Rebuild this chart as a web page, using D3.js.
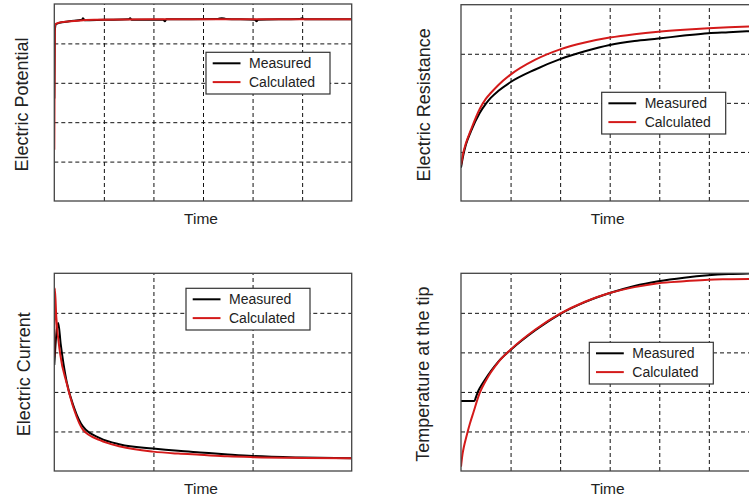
<!DOCTYPE html>
<html>
<head>
<meta charset="utf-8">
<script src="https://cdn.jsdelivr.net/npm/d3@7"></script>
<style>
  html, body { margin: 0; padding: 0; background: #fff; overflow: hidden; }
  svg { display: block; }
  text { font-family: Arial, "Liberation Sans", sans-serif; fill: #222; }
</style>
</head>
<body>
<svg id="chart" width="749" height="499"></svg>
<script>
// ---------- DATA ----------
const seriesNames = ["Measured", "Calculated"];
const xLabel = "Time";
const yLabels = ["Electric Potential", "Electric Resistance", "Electric Current", "Temperature at the tip"];

// Panel 1: Electric Potential  [time, value]
const potentialMeasured = [[0,2.6],[1,4.3],[3,4.48],[10,4.52],[30,4.56],[56,4.6],[58,4.64],[61,4.59],[100,4.6],[150,4.61],[153,4.64],[156,4.6],[220,4.6],[223,4.56],[226,4.61],[330,4.62],[338,4.64],[346,4.62],[405,4.6],[408,4.56],[411,4.6],[495,4.62],[500,4.64],[505,4.61],[600,4.61]];
const potentialCalculated = [[0,1.3],[1,4.45],[4,4.5],[15,4.54],[40,4.57],[80,4.6],[200,4.61],[600,4.61]];

// Panel 2: Electric Resistance
const resistanceMeasured = [[0,0.68],[5,0.95],[10,1.15],[20,1.42],[38,1.8],[50,1.98],[60,2.1],[75,2.24],[98,2.41],[150,2.68],[200,2.89],[250,3.05],[300,3.18],[350,3.26],[398,3.31],[450,3.37],[499,3.42],[540,3.44],[600,3.47]];
const resistanceCalculated = [[0,0.73],[5,1.0],[10,1.18],[20,1.45],[38,1.88],[50,2.08],[60,2.2],[75,2.36],[98,2.56],[150,2.88],[200,3.09],[250,3.23],[300,3.33],[350,3.4],[398,3.45],[450,3.49],[499,3.52],[540,3.54],[600,3.56]];

// Panel 3: Electric Current
const currentMeasured = [[0,2.68],[4,3.45],[8,3.74],[13,3.2],[25,2.25],[40,1.6],[58,1.12],[92,0.83],[133,0.67],[199,0.57],[250,0.51],[294,0.47],[350,0.42],[400,0.38],[500,0.34],[600,0.32]];
const currentCalculated = [[0,2.9],[1,4.62],[4,3.9],[12,2.95],[25,2.22],[40,1.55],[58,1.04],[92,0.78],[133,0.62],[199,0.49],[250,0.44],[294,0.41],[350,0.37],[400,0.35],[500,0.33],[600,0.32]];

// Panel 4: Temperature at the tip
const temperatureMeasured = [[0,1.77],[27,1.77],[30,1.86],[34,2.0],[38,2.1],[50,2.34],[60,2.52],[75,2.76],[100,3.06],[150,3.56],[200,3.97],[250,4.27],[300,4.5],[350,4.68],[398,4.8],[450,4.89],[499,4.95],[540,4.98],[600,5.0]];
const temperatureCalculated = [[0,0.11],[3,0.42],[6,0.62],[11.5,0.9],[18,1.2],[25,1.48],[38,1.98],[50,2.28],[60,2.49],[75,2.75],[100,3.07],[150,3.58],[200,3.98],[250,4.28],[300,4.5],[350,4.65],[398,4.75],[450,4.8],[499,4.84],[540,4.85],[600,4.86]];

// Grid tick values
const xTicksFine = [0,100,200,300,400,500,600];
const xTicksCoarse = [0,200,400,600];
const yTicks5 = [0,1,2,3,4,5];
const yTicks4 = [0,1,2,3,4];

// ---------- LAYOUT ----------
const panels = [
  { label: yLabels[0], box: {x:54.3, y:4,     w:297.4, h:197},   yMax:5, xTicks:xTicksFine,   yTicks:yTicks5, meas:potentialMeasured,  calc:potentialCalculated,  legend:{x:206, y:52.3},  labelX:28,  },
  { label: yLabels[1], box: {x:461,  y:4.7,   w:297.4, h:196.3}, yMax:4, xTicks:xTicksFine,   yTicks:yTicks4, meas:resistanceMeasured, calc:resistanceCalculated, legend:{x:601.7, y:92.3}, labelX:430, },
  { label: yLabels[2], box: {x:54.3, y:273.3, w:297.4, h:197.7}, yMax:5, xTicks:xTicksCoarse, yTicks:yTicks5, meas:currentMeasured,    calc:currentCalculated,    legend:{x:186, y:288.3}, labelX:30,  },
  { label: yLabels[3], box: {x:461,  y:273.3, w:297.4, h:197.7}, yMax:5, xTicks:xTicksFine,   yTicks:yTicks5, meas:temperatureMeasured,calc:temperatureCalculated,legend:{x:589.3, y:342.3}, labelX:429, }
];

const colors = { Measured: "#000000", Calculated: "#d41a1a" };
const svg = d3.select("#chart");

panels.forEach((p, i) => {
  const b = p.box;
  const x = d3.scaleLinear().domain([0, 600]).range([b.x, b.x + b.w]);
  const y = d3.scaleLinear().domain([0, p.yMax]).range([b.y + b.h, b.y]);
  const g = svg.append("g");

  const clipId = "clip" + i;
  svg.append("clipPath").attr("id", clipId)
    .append("rect").attr("x", b.x).attr("y", b.y).attr("width", b.w).attr("height", b.h);

  g.append("rect").attr("x", b.x).attr("y", b.y).attr("width", b.w).attr("height", b.h).attr("fill", "#fff");

  const gx = g.append("g").attr("transform", `translate(0,${b.y + b.h})`)
    .call(d3.axisBottom(x).tickValues(p.xTicks.slice(1, -1)).tickSize(-b.h).tickFormat(""));
  const gy = g.append("g").attr("transform", `translate(${b.x},0)`)
    .call(d3.axisLeft(y).tickValues(p.yTicks.slice(1, -1)).tickSize(-b.w).tickFormat(""));
  [gx, gy].forEach(a => {
    a.select(".domain").remove();
    a.selectAll(".tick line").attr("stroke", "#111").attr("stroke-width", 1).attr("stroke-dasharray", "4,3");
  });

  const line = d3.line().x(d => x(d[0])).y(d => y(d[1])).curve(d3.curveMonotoneX);
  const lines = g.append("g").attr("clip-path", `url(#${clipId})`);
  lines.append("path").datum(p.meas).attr("d", line).attr("fill", "none")
    .attr("stroke", colors.Measured).attr("stroke-width", 2).attr("stroke-linejoin", "round");
  lines.append("path").datum(p.calc).attr("d", line).attr("fill", "none")
    .attr("stroke", colors.Calculated).attr("stroke-width", 2).attr("stroke-linejoin", "round");

  g.append("rect").attr("x", b.x).attr("y", b.y).attr("width", b.w).attr("height", b.h)
    .attr("fill", "none").attr("stroke", "#444").attr("stroke-width", 1.3);

  const L = p.legend;
  const lg = g.append("g").attr("transform", `translate(${L.x},${L.y})`);
  lg.append("rect").attr("width", 124).attr("height", 41.7).attr("fill", "#fff")
    .attr("stroke", "#333").attr("stroke-width", 1.2);
  seriesNames.forEach((name, k) => {
    const ry = 11 + k * 18.8;
    lg.append("line").attr("x1", 6.7).attr("x2", 34.5).attr("y1", ry).attr("y2", ry)
      .attr("stroke", colors[name]).attr("stroke-width", 2);
    lg.append("text").attr("x", 43).attr("y", ry + 5).attr("font-size", 14).text(name);
  });

  g.append("text").attr("x", b.x + b.w / 2 - 2).attr("y", b.y + b.h + 22.5)
    .attr("text-anchor", "middle").attr("font-size", 15.5).text(xLabel);

  g.append("text")
    .attr("transform", `translate(${p.labelX},${b.y + b.h / 2 + 2}) rotate(-90)`)
    .attr("text-anchor", "middle").attr("font-size", 18).text(p.label);
});
</script>
</body>
</html>
